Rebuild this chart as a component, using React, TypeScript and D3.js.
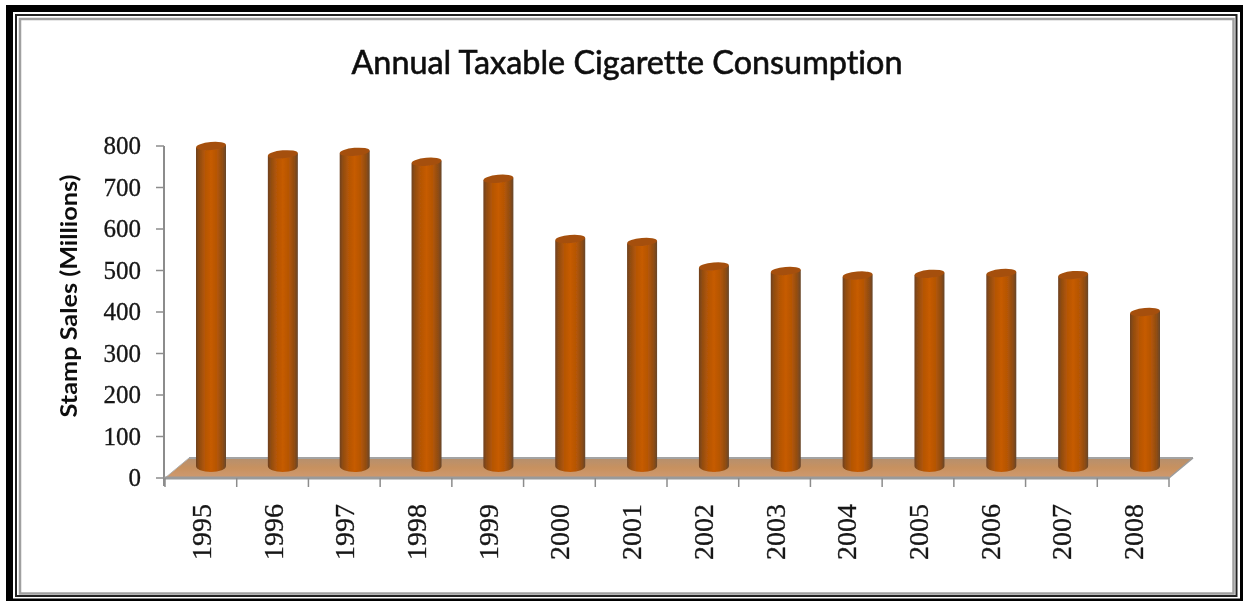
import React from "react";
import * as d3 from "d3";

const years = ["1995","1996","1997","1998","1999","2000","2001","2002","2003","2004","2005","2006","2007","2008"];
const stampSales = [771,751,757,733,692,547,540,481,470,459,463,465,460,371];
const yTicks = [0,100,200,300,400,500,600,700,800];
const chartTitle = "Annual Taxable Cigarette Consumption";
const yTitle = "Stamp Sales (Millions)";

const W = 1243, H = 601;
const axisX = 164, axisRight = 1169, axisBottom = 478, axisTop = 146;
const depthX = 24, depthY = 20;
const R = 15, RY = 5;

export default function App() {
  const y = d3.scaleLinear().domain([0, 800]).range([axisBottom, axisTop]);
  const band = d3.scaleBand<string>().domain(years).range([axisX + 1, axisRight]);
  const barX = d3.scaleLinear().domain([0, years.length - 1]).range([211, 1145]);
  const baseOffset = 12;
  return (
    <svg width={W} height={H} viewBox={`0 0 ${W} ${H}`}
      style={{ position: "fixed", left: 0, top: 0, display: "block", background: "#fff" }}>
      <defs>
        <linearGradient id="cyl" x1="0" x2="1" y1="0" y2="0">
          <stop offset="0" stopColor="#6e4020" />
          <stop offset="0.1" stopColor="#8f4c12" />
          <stop offset="0.3" stopColor="#b55606" />
          <stop offset="0.5" stopColor="#c65b04" />
          <stop offset="0.7" stopColor="#b55606" />
          <stop offset="0.9" stopColor="#8c4c14" />
          <stop offset="1" stopColor="#66452c" />
        </linearGradient>
        <linearGradient id="floor" x1="0" x2="0" y1="0" y2="1">
          <stop offset="0" stopColor="#b5906f" />
          <stop offset="0.5" stopColor="#c8915f" />
          <stop offset="1" stopColor="#cf9a70" />
        </linearGradient>
        <filter id="soft" x="-5%" y="-5%" width="110%" height="110%">
          <feGaussianBlur stdDeviation="0.7" />
        </filter>
      </defs>
      <rect x={0} y={0} width={W} height={H} fill="#fff" />
      {/* frame */}
      <path fillRule="evenodd" fill="#000" d="M6,5 H1243 V601 H6 Z M13,12 V598.5 H1240 V12 Z" />
      <rect x={16} y={15} width={1220.5} height={581} fill="none" stroke="#222" strokeWidth={2} />
      <rect x={20} y={19} width={1213.5} height={574.5} fill="none" stroke="#a0a0a0" strokeWidth={2.5} />

      <g filter="url(#soft)">
        <text x={627} y={74} textAnchor="middle" fontFamily="Lato" fontSize={32} fontWeight={400} fill="#111"
          stroke="#111" strokeWidth={0.6}
          textLength={551} lengthAdjust="spacingAndGlyphs" style={{ fontVariantLigatures: "none" }}>{chartTitle}</text>

        <text transform={`translate(77,296) rotate(-90)`} textAnchor="middle" fontFamily="Lato" fontWeight={700}
          fontSize={22.5} fill="#111" textLength={243} lengthAdjust="spacingAndGlyphs" style={{ fontVariantLigatures: "none" }}>{yTitle}</text>

        {/* floor */}
        <path d={`M${axisX + 1},${axisBottom} L${axisX + 1 + depthX},${axisBottom - depthY} L${axisRight + depthX},${axisBottom - depthY} L${axisRight},${axisBottom} Z`}
          fill="url(#floor)" />
        <path d={`M${axisX + 1 + depthX},${axisBottom - depthY} L${axisRight + depthX},${axisBottom - depthY}`} stroke="#a3a3a3" strokeWidth={2} fill="none" />
        <path d={`M${axisRight},${axisBottom} L${axisRight + depthX},${axisBottom - depthY}`} stroke="#9c9c9c" strokeWidth={1.5} fill="none" />
        <path d={`M${axisX + 1},${axisBottom} L${axisX + 1 + depthX},${axisBottom - depthY}`} stroke="#b0b0b0" strokeWidth={1} fill="none" />

        {/* axes */}
        <line x1={axisX} x2={axisX} y1={axisTop} y2={axisBottom + 8} stroke="#8c8c8c" strokeWidth={2} />
        <line x1={axisX} x2={axisRight} y1={axisBottom} y2={axisBottom} stroke="#9a9a9a" strokeWidth={3} />
        {yTicks.map(t => (
          <g key={t}>
            <line x1={axisX - 8} x2={axisX} y1={y(t)} y2={y(t)} stroke="#8c8c8c" strokeWidth={1.5} />
            <text x={141} y={y(t) + 8} textAnchor="end" fontFamily="Liberation Serif" fontSize={25} fill="#151515"
              stroke="#151515" strokeWidth={0.3}>{t}</text>
          </g>
        ))}
        {years.map(yr => (
          <line key={yr} x1={band(yr) as number} x2={band(yr) as number} y1={axisBottom} y2={axisBottom + 9} stroke="#8c8c8c" strokeWidth={1.5} />
        ))}
        <line x1={axisRight} x2={axisRight} y1={axisBottom} y2={axisBottom + 9} stroke="#8c8c8c" strokeWidth={1.5} />

        {/* cylinders */}
        {years.map((yr, i) => {
          const c = barX(i);
          const top = y(stampSales[i]) - baseOffset;
          const bot = axisBottom - baseOffset;
          return (
            <g key={yr}>
              <path d={`M${c - R},${top + 1.5} L${c - R},${bot} A${R},${RY + 1} 0 0 0 ${c + R},${bot} L${c + R},${top - 1} Z`} fill="url(#cyl)" />
              <ellipse cx={c} cy={top} rx={R} ry={RY - 1} fill="#a5500c" transform={`rotate(-5 ${c} ${top})`} />
            </g>
          );
        })}

        {/* year labels */}
        {years.map(yr => {
          const c = (band(yr) as number) + band.bandwidth() / 2;
          return (
            <text key={yr} transform={`translate(${c + 10},560) rotate(-90)`} textAnchor="start"
              fontFamily="Liberation Serif" fontSize={27} fill="#151515" stroke="#151515" strokeWidth={0.3}
              textLength={56} lengthAdjust="spacingAndGlyphs">{yr}</text>
          );
        })}
      </g>
    </svg>
  );
}
